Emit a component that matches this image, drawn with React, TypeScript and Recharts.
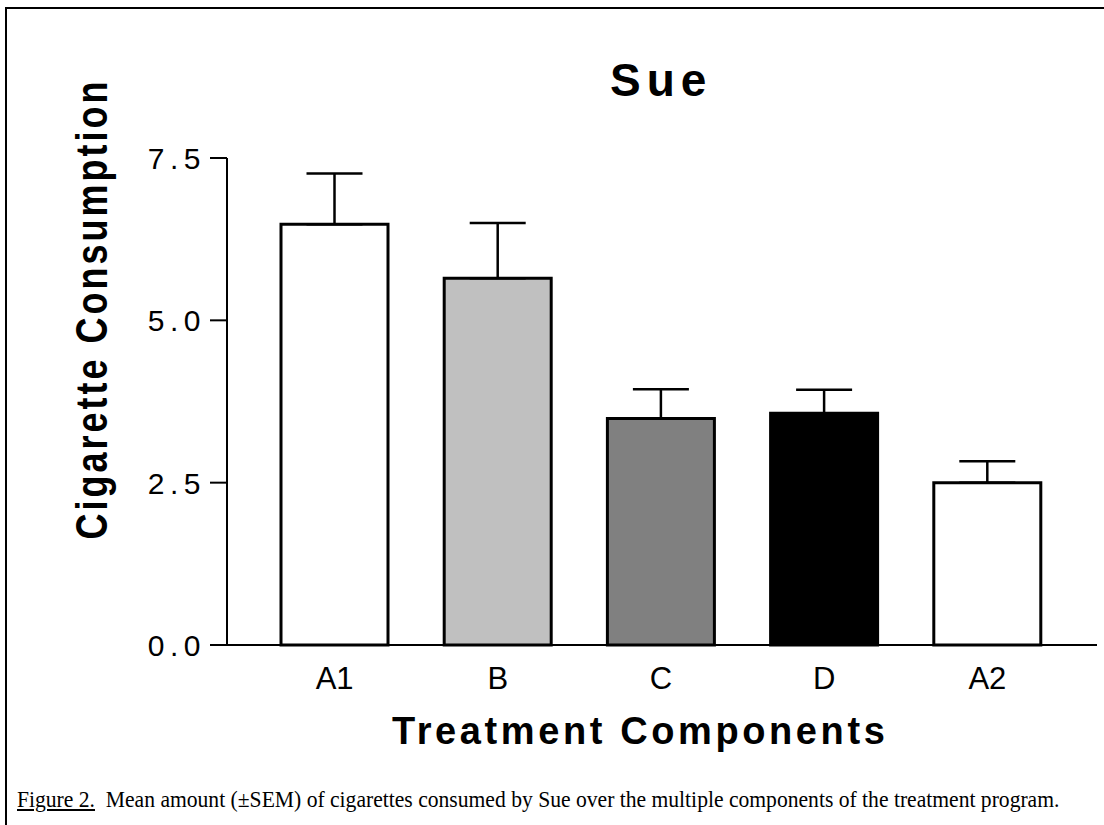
import { BarChart, Bar, XAxis, YAxis, Cell, ErrorBar } from 'recharts'

const components = ['A1', 'B', 'C', 'D', 'A2']
const means = [6.48, 5.65, 3.49, 3.57, 2.5]
const sems = [0.78, 0.85, 0.45, 0.36, 0.33]
const fills = ['#FFFFFF', '#C0C0C0', '#808080', '#000000', '#FFFFFF']
const yTicks = [0, 2.5, 5, 7.5]

const data = components.map((name, i) => ({ name, mean: means[i], err: [0, sems[i]] }))

const SANS = 'Arial, "Liberation Sans", Helvetica, sans-serif'
const SERIF = '"Times New Roman", "Liberation Serif", Times, serif'

function YTick({ x, y, payload }: any) {
  return (
    <text x={x - 4} y={y + 11} textAnchor="end" fontFamily={SANS} fontSize={30} fill="#000" style={{ letterSpacing: 5.5 }}>
      {Number(payload.value).toFixed(1)}
    </text>
  )
}

function XTick({ x, y, payload }: any) {
  return (
    <text x={x} y={y + 44} textAnchor="middle" fontFamily={SANS} fontSize={31} fill="#000">
      {payload.value}
    </text>
  )
}

export default function App() {
  return (
    <div style={{ position: 'absolute', left: 0, top: 0, width: 1104, height: 825, overflow: 'hidden', background: '#fff' }}>
      <div style={{ position: 'absolute', left: 5, top: 7, width: 1200, height: 900, borderLeft: '2px solid #000', borderTop: '2px solid #000' }} />

      <BarChart width={1104} height={825} data={data} margin={{ top: 158, right: 7, bottom: 120, left: 107 }}>
        <XAxis
          dataKey="name"
          type="category"
          height={60}
          padding={{ left: 26, right: 28 }}
          axisLine={{ stroke: '#000', strokeWidth: 2 }}
          tickLine={false}
          tickSize={0}
          tickMargin={0}
          tick={<XTick />}
          interval={0}
        />
        <YAxis
          width={120}
          domain={[0, 7.5]}
          ticks={yTicks}
          interval={0}
          axisLine={{ stroke: '#000', strokeWidth: 2 }}
          tickLine={{ stroke: '#000', strokeWidth: 2 }}
          tickSize={17}
          tickMargin={0}
          tick={<YTick />}
        />
        <Bar dataKey="mean" barSize={107} stroke="#000" strokeWidth={3} isAnimationActive={false}>
          {data.map((_, i) => <Cell key={i} fill={fills[i]} />)}
          <ErrorBar dataKey="err" direction="y" width={28} stroke="#000" strokeWidth={2.5} isAnimationActive={false} />
        </Bar>
      </BarChart>

      <div style={{ position: 'absolute', left: 610, top: 57, fontFamily: SANS, fontWeight: 700, fontSize: 46, lineHeight: '46px', letterSpacing: 6, whiteSpace: 'nowrap' }}>
        Sue
      </div>
      <div style={{ position: 'absolute', left: -208, top: 289, width: 600, height: 40, lineHeight: '40px', textAlign: 'center', transform: 'rotate(-90deg) scaleY(1.25)', fontFamily: SANS, fontWeight: 700, fontSize: 36, letterSpacing: 3, whiteSpace: 'nowrap' }}>
        Cigarette Consumption
      </div>
      <div style={{ position: 'absolute', left: 392, top: 711, lineHeight: '40px', fontFamily: SANS, fontWeight: 700, fontSize: 38, letterSpacing: 3.6, whiteSpace: 'nowrap' }}>
        Treatment Components
      </div>
      <div style={{ position: 'absolute', left: 17, top: 787, lineHeight: '24px', fontFamily: SERIF, fontSize: 24, whiteSpace: 'nowrap', transform: 'scaleX(0.9)', transformOrigin: '0 0' }}>
        <span style={{ textDecoration: 'underline' }}>Figure 2.</span>&nbsp; Mean amount (±SEM) of cigarettes consumed by Sue over the multiple components of the treatment program.
      </div>
    </div>
  )
}
